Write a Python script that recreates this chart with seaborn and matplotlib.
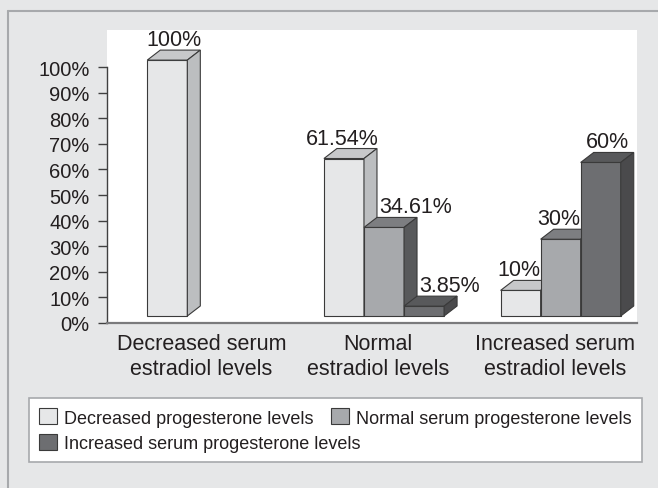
import numpy as np
import pandas as pd
import matplotlib
matplotlib.use("Agg")
import matplotlib.pyplot as plt
import matplotlib.transforms as mtransforms
import seaborn as sns
from matplotlib.patches import Polygon, Patch
from matplotlib.lines import Line2D
from matplotlib.ticker import PercentFormatter

# data
categories = ["Decreased serum\nestradiol levels", "Normal\nestradiol levels",
              "Increased serum\nestradiol levels"]
series_names = ["Decreased progesterone levels", "Normal serum progesterone levels",
                "Increased serum progesterone levels"]
decreased_prog = [100, 61.54, 10]
normal_prog = [np.nan, 34.61, 30]
increased_prog = [np.nan, 3.85, 60]

front_colors = ["#e6e7e8", "#a7a9ac", "#6d6e71"]
top_colors = ["#c7c8ca", "#7d7e81", "#58595b"]
side_colors = ["#bcbec0", "#58595b", "#4a4a4c"]
edge = "#3a3a3a"
text_color = "#231f20"

df = pd.DataFrame({
    "estradiol": categories * 3,
    "progesterone": np.repeat(series_names, len(categories)),
    "percent": decreased_prog + normal_prog + increased_prog,
})

sns.set_style("white")
plt.rcParams["font.family"] = ["Liberation Sans", "DejaVu Sans"]

W, H, DPI = 658, 489, 100
fig = plt.figure(figsize=(W / DPI, H / DPI), dpi=DPI, facecolor="#e6e7e8")
ax = fig.add_axes([107 / W, 1 - 324 / H, 530 / W, 293 / H])
ax.set_facecolor("white")

sns.barplot(data=df, x="estradiol", y="percent", hue="progesterone",
            hue_order=series_names, palette=front_colors, saturation=1,
            width=0.68, gap=0, errorbar=None, edgecolor=edge, linewidth=0.8,
            legend=False, ax=ax)

ax.set_xlim(-0.5, 2.5)
ax.set_ylim(0, 114.5)
ax.set_xlabel("")
ax.set_ylabel("")

# pseudo-3D: shift the front faces and add top / side faces
dx, dy = 13, 10
shift = mtransforms.ScaledTranslation(12 / DPI, 7 / DPI, fig.dpi_scale_trans)
bar_tr = ax.transData + shift
ident = mtransforms.IdentityTransform()

heights = {}
for k, cont in enumerate(ax.containers):
    for p in cont.patches:
        h = p.get_height()
        if np.isfinite(h) and h > 0:
            heights[(int(round(p.get_x() + p.get_width() / 2)), k)] = h

for k, cont in enumerate(ax.containers):
    for p in cont.patches:
        h = p.get_height()
        if not (np.isfinite(h) and h > 0):
            continue
        z = 2 + k * 0.1
        p.set_transform(bar_tr)
        p.set_zorder(z)
        x0, w = p.get_x(), p.get_width()
        (px0, py0), (px1, py1) = bar_tr.transform([(x0, 0), (x0 + w, h)])
        top = [(px0, py1), (px1, py1), (px1 + dx, py1 + dy), (px0 + dx, py1 + dy)]
        side = [(px1, py0), (px1, py1), (px1 + dx, py1 + dy), (px1 + dx, py0 + dy)]
        for pts, col in ((top, top_colors[k]), (side, side_colors[k])):
            ax.add_patch(Polygon(pts, closed=True, facecolor=col, edgecolor=edge,
                                 linewidth=0.8, transform=ident, zorder=z))
        cat = int(round(x0 + w / 2))
        prev = heights.get((cat, k - 1))
        nxt = heights.get((cat, k + 1))
        if prev is not None and prev > h:
            tx, ha = px0 + dx + 2, "left"
        elif nxt is None:
            tx, ha = (px0 + px1) / 2 + dx / 2, "center"
        else:
            tx, ha = (px0 + px1) / 2 - 2, "center"
        ax.text(tx, py1 + 10, f"{h:g}%", transform=ident, ha=ha, va="bottom",
                fontsize=15.5, color=text_color, zorder=5)

# axes styling
ax.yaxis.set_major_formatter(PercentFormatter(decimals=0))
ax.set_yticks(np.arange(0, 101, 10))
ax.tick_params(axis="y", length=6.5, width=1, color="#404040", pad=6,
               labelsize=14.5, labelcolor=text_color, left=True)
ax.tick_params(axis="x", length=0, pad=7, labelsize=15.5, labelcolor=text_color)
for t in ax.get_xticklabels():
    t.set_linespacing(1.25)
    t.set_transform(t.get_transform() + mtransforms.ScaledTranslation(
        6 / DPI, 0, fig.dpi_scale_trans))

for s in ("top", "right"):
    ax.spines[s].set_visible(False)
ax.spines["left"].set_bounds(0, 100)
ax.spines["left"].set_color("#404040")
ax.spines["left"].set_linewidth(1)
ax.spines["bottom"].set_color("#7a7a7c")
ax.spines["bottom"].set_linewidth(1.6)

# frame lines of the figure panel
fig.add_artist(Line2D([8 / W, 1], [1 - 12 / H] * 2, transform=fig.transFigure,
                      color="#a7a9ac", linewidth=1.5))
fig.add_artist(Line2D([8 / W] * 2, [0, 1 - 12 / H], transform=fig.transFigure,
                      color="#a7a9ac", linewidth=1.5))

# legend (rows: A B / C)
handles = [Patch(facecolor=front_colors[i], edgecolor=edge, linewidth=0.8,
                 label=series_names[i]) for i in (0, 2, 1)]
leg = fig.legend(handles=handles, ncol=2, loc="lower left",
                 bbox_to_anchor=(29 / W, 1 - 463 / H, 613 / W, 66 / H),
                 mode="expand", frameon=True, fancybox=False, framealpha=1,
                 edgecolor="#a7a9ac", facecolor="white", fontsize=13,
                 handlelength=1.0, handleheight=1.0, handletextpad=0.4,
                 labelspacing=0.4, borderpad=0.55, borderaxespad=0,
                 labelcolor=text_color)
leg.get_frame().set_linewidth(1.2)

fig.savefig("out.png", dpi=DPI, facecolor=fig.get_facecolor())
